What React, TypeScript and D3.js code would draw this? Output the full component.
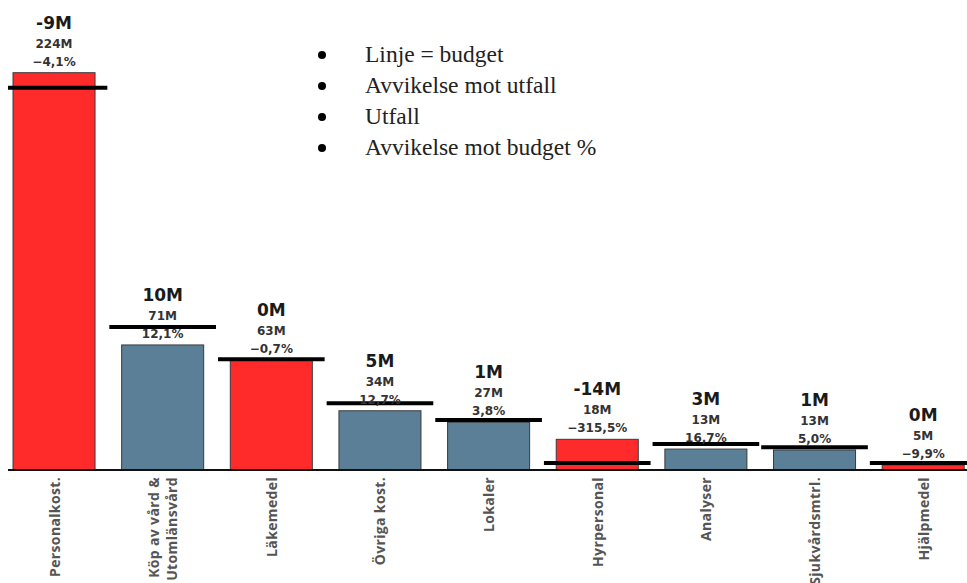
import React from "react";
import * as d3 from "d3";

const categories = [
  ["Personalkost."],
  ["Köp av vård &", "Utomlänsvård"],
  ["Läkemedel"],
  ["Övriga kost."],
  ["Lokaler"],
  ["Hyrpersonal"],
  ["Analyser"],
  ["Sjukvårdsmtrl."],
  ["Hjälpmedel"],
];
const utfall = [224, 70.5, 62, 33.4, 26.9, 17.3, 11.8, 11.3, 2.8];
const budget = [215.5, 80.6, 62.5, 37.6, 28.2, 3.9, 14.7, 12.8, 3.9];
const deviationLabels = ["-9M", "10M", "0M", "5M", "1M", "-14M", "3M", "1M", "0M"];
const utfallLabels = ["224M", "71M", "63M", "34M", "27M", "18M", "13M", "13M", "5M"];
const pctLabels = ["−4,1%", "12,1%", "−0,7%", "12,7%", "3,8%", "−315,5%", "16,7%", "5,0%", "−9,9%"];
const negative = [true, false, true, false, false, true, false, false, true];
const legendItems = ["Linje = budget", "Avvikelse mot utfall", "Utfall", "Avvikelse mot budget %"];

const W = 967;
const H = 583;
const baseY = 470;

export default function App() {
  const x = d3
    .scaleBand<number>()
    .domain(d3.range(categories.length))
    .range([-0.3, 977.5])
    .paddingInner(0.245)
    .paddingOuter(0.1225);
  const y = d3.scaleLinear().domain([0, 224]).range([baseY, 72.7]);
  const step = x.step();
  const bw = x.bandwidth();
  const labelFont = "'DejaVu Sans', Verdana, sans-serif";

  return (
    <svg
      width={W}
      height={H}
      style={{ position: "absolute", left: 0, top: 0, background: "#fff" }}
    >
      <defs>
        <clipPath id="plotclip">
          <rect x={8} y={0} width={W - 8} height={H} />
        </clipPath>
      </defs>
      <g clipPath="url(#plotclip)">
        {utfall.map((v, i) => {
          const x0 = x(i)!;
          return (
            <rect
              key={"b" + i}
              x={x0}
              y={y(v)}
              width={bw}
              height={baseY - y(v)}
              fill={negative[i] ? "#FF2B2B" : "#5A7F96"}
              stroke="#3a3a3a"
              strokeWidth={1}
            />
          );
        })}
        <line x1={8} x2={W} y1={baseY} y2={baseY} stroke="#111" strokeWidth={2} />
        {budget.map((v, i) => {
          const cx = x(i)! + bw / 2;
          return (
            <line
              key={"l" + i}
              x1={cx - step / 2 + 1}
              x2={cx + step / 2 - 1}
              y1={y(v)}
              y2={y(v)}
              stroke="#000"
              strokeWidth={4}
            />
          );
        })}
      </g>
      {utfall.map((v, i) => {
        const cx = x(i)! + bw / 2;
        const top = y(v);
        return (
          <g key={"t" + i} fontFamily={labelFont} fontWeight="bold" textAnchor="middle">
            <text x={cx} y={top - 44} fontSize={17} fill="#1a1a1a">
              {deviationLabels[i]}
            </text>
            <text x={cx} y={top - 25} fontSize={12} fill="#333">
              {utfallLabels[i]}
            </text>
            <text x={cx} y={top - 7} fontSize={12} fill="#333">
              {pctLabels[i]}
            </text>
          </g>
        );
      })}
      {categories.map((lines, i) => {
        const cx = x(i)! + bw / 2;
        const n = lines.length;
        return (
          <g key={"c" + i}>
            {lines.map((ln, j) => {
              const off = (j - (n - 1) / 2) * 18;
              return (
                <text
                  key={j}
                  transform={`translate(${cx + off},477) rotate(-90)`}
                  textAnchor="end"
                  dominantBaseline="central"
                  fontFamily="'Open Sans', sans-serif"
                  fontWeight={700}
                  fontSize={14}
                  letterSpacing={0.35}
                  fill="#555"
                >
                  {ln}
                </text>
              );
            })}
          </g>
        );
      })}
      {legendItems.map((t, i) => (
        <g key={"lg" + i}>
          <circle cx={322} cy={55 + i * 31} r={4} fill="#000" />
          <text
            x={365}
            y={62 + i * 31}
            fontFamily="'Liberation Serif', 'Times New Roman', serif"
            fontSize={23.5}
            fill="#222"
          >
            {t}
          </text>
        </g>
      ))}
    </svg>
  );
}
